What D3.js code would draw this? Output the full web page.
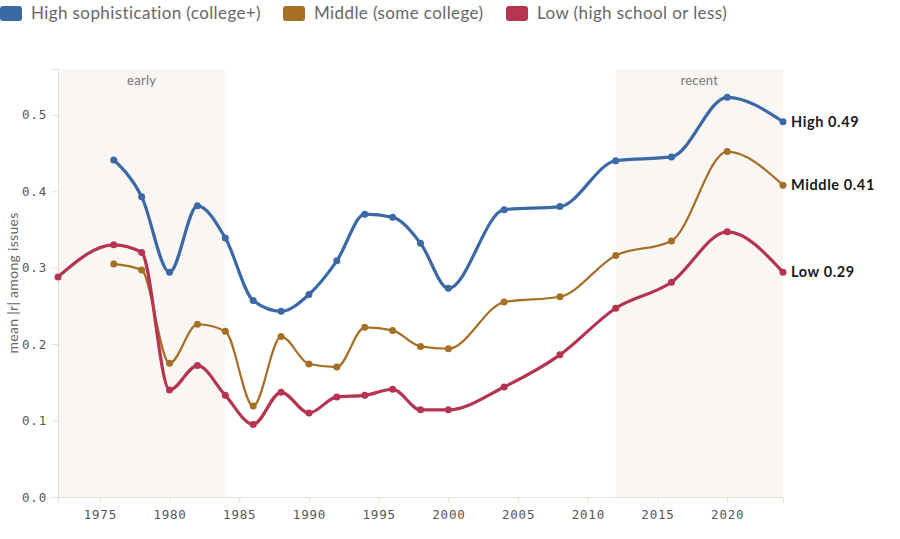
<!DOCTYPE html>
<html>
<head>
<meta charset="utf-8">
<script src="https://cdn.jsdelivr.net/npm/d3@7"></script>
<style>
  body { margin: 0; background: #fff; }
  svg { display: block; font-family: Lato, "Open Sans", sans-serif; }
  .axis path, .axis line { stroke: #e6e0d3; }
  .axis text { font-family: "DejaVu Sans Mono", monospace; font-size: 12.5px; fill: #555; letter-spacing: 0.8px; }
</style>
</head>
<body>
<svg id="chart" width="900" height="539"></svg>
<script>
// survey years
var years = [1972, 1976, 1978, 1980, 1982, 1984, 1986, 1988, 1990, 1992, 1994, 1996, 1998, 2000, 2004, 2008, 2012, 2016, 2020, 2024];

// mean |r| among issues, per group (null = no data)
var highVals   = [null, 0.441, 0.393, 0.294, 0.381, 0.339, 0.257, 0.243, 0.265, 0.309, 0.370, 0.366, 0.332, 0.273, 0.376, 0.380, 0.440, 0.445, 0.523, 0.491];
var middleVals = [null, 0.305, 0.297, 0.175, 0.226, 0.217, 0.119, 0.210, 0.174, 0.170, 0.222, 0.218, 0.197, 0.194, 0.255, 0.262, 0.316, 0.335, 0.452, 0.408];
var lowVals    = [0.288, 0.330, 0.320, 0.140, 0.172, 0.133, 0.095, 0.137, 0.110, 0.131, 0.133, 0.141, 0.114, 0.114, 0.144, 0.186, 0.247, 0.281, 0.347, 0.294];

var seriesNames  = ["High", "Middle", "Low"];
var legendLabels = ["High sophistication (college+)", "Middle (some college)", "Low (high school or less)"];
var colors       = ["#3a69a6", "#a66f26", "#b5344f"];

// shaded periods
var bands = [
  {label: "early",  from: 1972, to: 1984},
  {label: "recent", from: 2012, to: 2024}
];

var yTicks = [0, 0.1, 0.2, 0.3, 0.4, 0.5];
var xTicks = [1975, 1980, 1985, 1990, 1995, 2000, 2005, 2010, 2015, 2020];

var svg = d3.select("#chart"),
    margin = {top: 69, right: 117, bottom: 42, left: 58},
    width = +svg.attr("width") - margin.left - margin.right,
    height = +svg.attr("height") - margin.top - margin.bottom;

var g = svg.append("g").attr("transform", "translate(" + margin.left + "," + margin.top + ")");

var x = d3.scaleLinear().domain([1972, 2024]).range([0, width]);
var y = d3.scaleLinear().domain([0, 0.56]).range([height, 0]);

/// shaded bands
var bg = g.selectAll(".band").data(bands).enter().append("g").attr("class", "band");
bg.append("rect")
    .attr("x", function(d){ return x(d.from); })
    .attr("y", 0)
    .attr("width", function(d){ return x(d.to) - x(d.from); })
    .attr("height", height)
    .attr("fill", "#f9f6f3");
bg.append("text")
    .attr("x", function(d){ return (x(d.from) + x(d.to)) / 2; })
    .attr("y", 11)
    .attr("dy", "0.35em")
    .attr("text-anchor", "middle")
    .attr("font-size", 13)
    .attr("letter-spacing", 0.3)
    .attr("fill", "#777")
    .text(function(d){ return d.label; });

/// axes
g.append("g")
    .attr("class", "axis axis--x")
    .attr("transform", "translate(0," + height + ")")
    .call(d3.axisBottom(x).tickValues(xTicks).tickFormat(d3.format("d")).tickSize(6).tickPadding(7));

g.append("g")
    .attr("class", "axis axis--y")
    .call(d3.axisLeft(y).tickValues(yTicks).tickFormat(d3.format(".1f")).tickSize(7).tickPadding(4));

svg.append("text")
    .attr("transform", "translate(13," + (margin.top + height / 2) + ") rotate(-90)")
    .attr("text-anchor", "middle")
    .attr("dy", "0.35em")
    .attr("font-size", 14)
    .attr("letter-spacing", 0.3)
    .attr("fill", "#666")
    .text("mean |r| among issues");

/// lines
var allVals = [highVals, middleVals, lowVals];
var series = seriesNames.map(function(name, i){
    return {
        name: name,
        color: colors[i],
        width: i === 1 ? 2.2 : 3.2,
        points: years.map(function(yr, j){ return {year: yr, value: allVals[i][j]}; })
                     .filter(function(d){ return d.value !== null; })
    };
});

var line = d3.line()
    .curve(d3.curveMonotoneX)
    .x(function(d){ return x(d.year); })
    .y(function(d){ return y(d.value); });

var sg = g.selectAll(".series").data(series).enter().append("g").attr("class", "series");

sg.append("path")
    .attr("fill", "none")
    .attr("stroke", function(d){ return d.color; })
    .attr("stroke-width", function(d){ return d.width; })
    .attr("stroke-linejoin", "round")
    .attr("stroke-linecap", "round")
    .attr("d", function(d){ return line(d.points); });

sg.selectAll("circle")
    .data(function(d){ return d.points.map(function(p){ return {p: p, color: d.color}; }); })
    .enter().append("circle")
    .attr("cx", function(d){ return x(d.p.year); })
    .attr("cy", function(d){ return y(d.p.value); })
    .attr("r", 3.5)
    .attr("fill", function(d){ return d.color; });

/// end labels
sg.append("text")
    .attr("x", function(d){ return x(d.points[d.points.length - 1].year) + 8; })
    .attr("y", function(d){ return y(d.points[d.points.length - 1].value); })
    .attr("dy", "0.35em")
    .attr("font-size", 14.5)
    .attr("font-weight", "bold")
    .attr("letter-spacing", 0.6)
    .attr("fill", "#1a1a1a")
    .text(function(d){ return d.name + " " + d3.format(".2f")(d.points[d.points.length - 1].value); });

/// legend
var legendX = [0, 283, 506];
var lg = svg.selectAll(".legend").data(legendLabels).enter().append("g")
    .attr("class", "legend")
    .attr("transform", function(d, i){ return "translate(" + legendX[i] + ",6)"; });
lg.append("rect")
    .attr("width", 22).attr("height", 15).attr("rx", 3)
    .attr("fill", function(d, i){ return colors[i]; });
lg.append("text")
    .attr("x", 31).attr("y", 7.5).attr("dy", "0.35em")
    .attr("font-size", 17)
    .attr("letter-spacing", 0.4)
    .attr("fill", "#666")
    .text(function(d){ return d; });
</script>
</body>
</html>
